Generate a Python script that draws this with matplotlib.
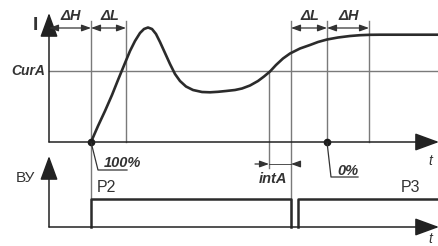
import matplotlib.pyplot as plt
import numpy as np

plt.rcParams['font.family'] = ['Liberation Sans', 'DejaVu Sans']

# current curve I(t) (x right, y down)
curve_t = [91, 98, 105, 112, 118, 125, 130, 135, 140, 144, 148, 152, 156, 160, 165,
           170, 175, 180, 186, 193, 202, 210, 218, 226, 235, 242, 250, 258, 264, 270,
           276, 283, 290, 300, 310, 318, 327, 338, 350, 360, 370, 380, 439]
curve_i = [142, 126, 111, 95, 80, 63, 51, 41, 33, 29, 27.5, 29, 34, 42, 53,
           64, 74, 81, 86.5, 90, 92, 92.3, 91.8, 91, 90, 88.5, 85.5, 81, 76.5, 71.5,
           65, 58.5, 53.5, 48.5, 45, 42, 39.5, 37.5, 36, 35.2, 34.8, 34.7, 34.7]

# time marks
t_axis = 49
t_start = 91        # 100%
t_dl1 = 126
t_cross = 269       # curve crosses CurA
t_switch = 291
t_zero = 327        # 0%
t_dh2 = 369
t_p3 = 298
t_end = 439

# levels
cur_a = 71
base_top = 142
base_bot = 227
pulse_hi = 199
dim_y = 28
line_top = 21

grey = '#7a7a7a'
dark = '#2b2b2b'
txt = '#333333'

fig = plt.figure(figsize=(4.39, 2.46), dpi=100)
ax = fig.add_axes([0, 0, 1, 1])
ax.set_xlim(0, 439)
ax.set_ylim(246, 0)
ax.axis('off')

# axes with arrows
def axis_arrow(x0, y0, x1, y1):
    ax.annotate('', xy=(x1, y1), xytext=(x0, y0), annotation_clip=False,
                arrowprops=dict(arrowstyle='-|>,head_length=1.5,head_width=0.55',
                                color='#222222', lw=1.1, shrinkA=0, shrinkB=0))

axis_arrow(t_axis, base_top, t_axis, 13)
axis_arrow(t_axis, base_top, t_end, base_top)
axis_arrow(t_axis, base_bot, t_axis, 156)
axis_arrow(t_axis, base_bot, t_end, base_bot)

# CurA level
ax.plot([t_axis, t_end], [cur_a, cur_a], color=grey, lw=1.0)

# vertical marker lines
for x, y0, y1 in [(t_start, line_top, pulse_hi), (t_dl1, line_top, base_top),
                  (t_cross, cur_a, 168), (t_switch, line_top, base_bot),
                  (t_zero, line_top, base_top), (t_dh2, line_top, base_top)]:
    ax.plot([x, x], [y0, y1], color=grey, lw=1.0)

# curve
ax.plot(curve_t, curve_i, color=dark, lw=1.9, solid_capstyle='round',
        solid_joinstyle='round')
ax.plot([t_start, t_zero], [base_top, base_top], 'o', color='#1a1a1a', ms=4.5)

# dimension arrows
def dim_arrow(x0, x1, y):
    ax.annotate('', xy=(x1, y), xytext=(x0, y), annotation_clip=False,
                arrowprops=dict(arrowstyle='<|-|>,head_length=0.55,head_width=0.2',
                                color=txt, lw=0.9, shrinkA=0, shrinkB=0))

dim_arrow(t_axis, t_start, dim_y)
dim_arrow(t_start, t_dl1, dim_y)
dim_arrow(t_switch, t_zero, dim_y)
dim_arrow(t_zero, t_dh2, dim_y)

lab = dict(fontsize=10.5, fontweight='bold', fontstyle='italic', color=txt,
           ha='center', va='center')
ax.text((t_axis + t_start) / 2 + 1, 16, '\u0394H', **lab)
ax.text((t_start + t_dl1) / 2 + 1, 16, '\u0394L', **lab)
ax.text((t_switch + t_zero) / 2 + 1, 16, '\u0394L', **lab)
ax.text((t_zero + t_dh2) / 2 + 1, 16, '\u0394H', **lab)

# intA arrows pointing at the two lines
for x0, x1 in [(255, t_cross), (300, t_switch)]:
    ax.annotate('', xy=(x1, 164), xytext=(x0, 164), annotation_clip=False,
                arrowprops=dict(arrowstyle='-|>,head_length=0.55,head_width=0.2',
                                color=txt, lw=0.9, shrinkA=0, shrinkB=0))
ax.plot([t_cross, t_switch], [164, 164], color=txt, lw=0.6)
ax.text(273, 179, 'intA', **lab)

# leaders for 100% / 0%
ax.plot([t_start, 98, 127], [base_top, 170, 170], color=txt, lw=0.9)
ax.text(122, 163, '100%', **lab)
ax.plot([t_zero, 331, 358], [base_top, 177, 177], color=txt, lw=0.9)
ax.text(348, 171, '0%', **lab)

ax.text(45, 71, 'CurA', fontsize=10, fontweight='bold', fontstyle='italic',
        color=txt, ha='right', va='center')
ax.text(35, 25, 'I', fontsize=14, fontweight='bold', color=txt,
        ha='center', va='center')
ax.text(25, 178, '\u0412\u0423', fontsize=11, color=txt, ha='center', va='center')
ax.text(106, 188, 'P2', fontsize=11.5, color=txt, ha='center', va='center')
ax.text(411, 188, 'P3', fontsize=11.5, color=txt, ha='center', va='center')
ax.text(430, 161, 't', fontsize=10, fontstyle='italic', color=txt,
        ha='center', va='center')
ax.text(430, 239, 't', fontsize=10, fontstyle='italic', color=txt,
        ha='center', va='center')

# relay output pulses
pulse_p2_t = [t_start, t_start, t_switch, t_switch]
pulse_p2_y = [base_bot, pulse_hi, pulse_hi, base_bot]
pulse_p3_t = [t_p3, t_p3, t_end]
pulse_p3_y = [base_bot, pulse_hi, pulse_hi]
ax.plot(pulse_p2_t, pulse_p2_y, color=dark, lw=1.8)
ax.plot(pulse_p3_t, pulse_p3_y, color=dark, lw=1.8)

fig.savefig('out.png', dpi=100)
